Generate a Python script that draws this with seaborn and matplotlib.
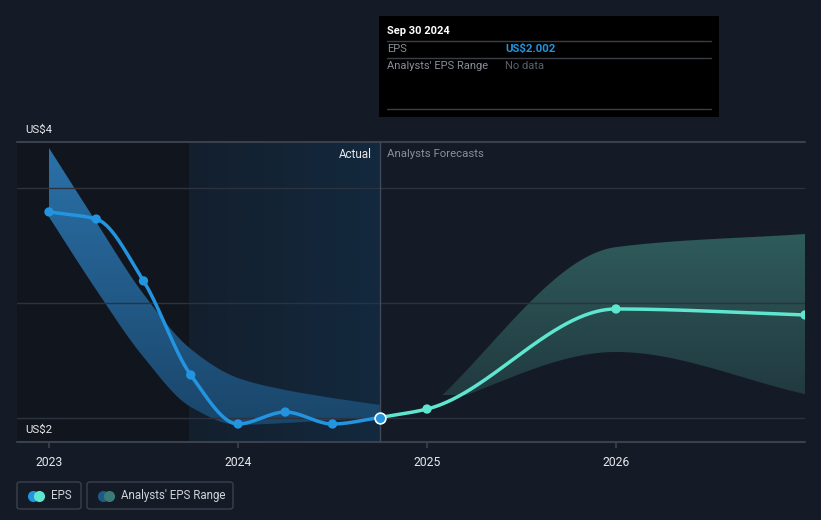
import matplotlib
matplotlib.use('Agg')
import matplotlib.pyplot as plt
import seaborn as sns
import numpy as np
import pandas as pd
from matplotlib.colors import LinearSegmentedColormap
from matplotlib.patches import PathPatch, Rectangle, FancyBboxPatch
from matplotlib.lines import Line2D

# data (decimal years, EPS in US$)
actual_x = [2023.0, 2023.25, 2023.5, 2023.75, 2024.0, 2024.25, 2024.5, 2024.75]
actual_eps = [2.896, 2.865, 2.596, 2.187, 1.974, 2.026, 1.974, 2.002]
past_range_hi = [3.174, 2.852, 2.539, 2.300, 2.174, 2.122, 2.087, 2.057]
past_range_lo = [2.874, 2.557, 2.265, 2.048, 1.970, 1.978, 1.991, 2.004]

fc_x = [2024.75, 2025.0, 2026.0, 2027.0]
fc_eps = [2.002, 2.039, 2.474, 2.448]
fc_range_x = [2025.0, 2026.0, 2027.0]
fc_range_hi = [2.039, 2.743, 2.800]
fc_range_lo = [2.039, 2.287, 2.104]

year_ticks = [2023, 2024, 2025, 2026]
grid_vals = [2.0, 2.5, 3.0]

BG = '#151b26'
BLUE = '#2394df'
TEAL = '#5ee6cf'


def monotone(x, y, n=200):
    # monotone cubic (Fritsch-Carlson) just for drawing a smooth path
    x = np.asarray(x, float)
    y = np.asarray(y, float)
    h = np.diff(x)
    d = np.diff(y) / h
    m = np.zeros_like(y)
    m[0], m[-1] = d[0], d[-1]
    for i in range(1, len(y) - 1):
        if d[i - 1] * d[i] > 0:
            w1 = 2 * h[i] + h[i - 1]
            w2 = h[i] + 2 * h[i - 1]
            m[i] = (w1 + w2) / (w1 / d[i - 1] + w2 / d[i])
    xs = np.linspace(x[0], x[-1], n)
    k = np.clip(np.searchsorted(x, xs) - 1, 0, len(x) - 2)
    t = (xs - x[k]) / h[k]
    h00 = 2 * t**3 - 3 * t**2 + 1
    h10 = t**3 - 2 * t**2 + t
    h01 = -2 * t**3 + 3 * t**2
    h11 = t**3 - t**2
    ys = h00 * y[k] + h10 * h[k] * m[k] + h01 * y[k + 1] + h11 * h[k] * m[k + 1]
    return xs, ys


sns.set_theme(style='dark')
plt.rcParams['font.family'] = ['Roboto', 'DejaVu Sans']

W, H = 821, 520
fig = plt.figure(figsize=(W / 100, H / 100), dpi=100, facecolor=BG)


def px(x, y):
    return x / W, 1 - y / H


ax = fig.add_axes([17 / W, (H - 442) / H, 788 / W, 300 / H])
ax.set_facecolor(BG)
x0, x1 = 2027 - 788 / 189, 2027.0
y0, y1 = 2 - 24 / 230, 2 + 276 / 230

# background regions
ax.axvspan(x0, 2023.74, color='#11161e', lw=0, zorder=0)
bg_cmap = LinearSegmentedColormap.from_list('bg', ['#131f2d', '#13293e'])
ax.imshow(np.linspace(0, 1, 256)[None, :], extent=[2023.74, 2024.75, y0, y1],
          aspect='auto', cmap=bg_cmap, zorder=0.5, origin='lower')


def gradient_band(xs, lo, hi, c_top, c_bot, v_top, v_bot):
    xd, hd = monotone(xs, hi)
    _, ld = monotone(xs, lo)
    poly = ax.fill_between(xd, ld, hd, facecolor='none', edgecolor='none')
    patch = PathPatch(poly.get_paths()[0], transform=ax.transData,
                      facecolor='none', edgecolor='none')
    ax.add_patch(patch)
    cmap = LinearSegmentedColormap.from_list('g', [c_bot, c_top])
    im = ax.imshow(np.linspace(0, 1, 256)[:, None], extent=[xs[0], xs[-1], v_bot, v_top],
                   aspect='auto', cmap=cmap, origin='lower', zorder=1)
    im.set_clip_path(patch)


gradient_band(actual_x, past_range_lo, past_range_hi, '#2b72aa', '#1a4569', 3.2, 1.95)
gradient_band(fc_range_x, fc_range_lo, fc_range_hi, '#2f5b5b', '#213a40', 2.8, 2.1)

# grid lines
for g in grid_vals:
    ax.axhline(g, color='#2c333e', lw=1, zorder=1.5)
ax.axhline(y1, color='#3b414c', lw=1.5, zorder=1.5, clip_on=False)
ax.axhline(y0, color='#3b414c', lw=1.5, zorder=1.5, clip_on=False)
ax.axvline(2024.75, color='#3d4a5a', lw=1, zorder=1.6)

# EPS lines
xa, ya = monotone(actual_x, actual_eps, 400)
sns.lineplot(x=xa, y=ya, ax=ax, color=BLUE, lw=2.5, zorder=3)
xf, yf = monotone(fc_x, fc_eps, 300)
sns.lineplot(x=xf, y=yf, ax=ax, color=TEAL, lw=2.5, zorder=3)

sns.scatterplot(x=actual_x[:-1], y=actual_eps[:-1], ax=ax, color=BLUE, s=45,
                edgecolor='none', zorder=4)
sns.scatterplot(x=fc_x[1:], y=fc_eps[1:], ax=ax, color=TEAL, s=45,
                edgecolor='none', zorder=4)
sns.scatterplot(x=[actual_x[-1]], y=[actual_eps[-1]], ax=ax, color=BLUE, s=60,
                edgecolor='white', linewidth=1.2, zorder=5)

ax.set_xlim(x0, x1)
ax.set_ylim(y0, y1)
ax.set_xticks(year_ticks)
ax.set_xticklabels([str(y) for y in year_ticks], color='#e6e8eb', fontsize=8.7)
ax.set_yticks([])
ax.tick_params(axis='x', length=4, color='#3b414c', pad=6, bottom=True)
for s in ax.spines.values():
    s.set_visible(False)
ax.set_xlabel('')
ax.set_ylabel('')

ax.text(2024.75 - 0.045, 3.2 - 0.053, 'Actual', color='#e6e8eb', fontsize=8.4,
        ha='right', va='center', zorder=6)
ax.text(2024.75 + 0.04, 3.2 - 0.053, 'Analysts Forecasts', color='#8a8f96', fontsize=8.2,
        ha='left', va='center', zorder=6)

fig.text(*px(25, 130), 'US$4', color='#e6e8eb', fontsize=8.2, va='center')
fig.text(*px(25, 430), 'US$2', color='#e6e8eb', fontsize=8.2, va='center')

# tooltip box
fig.add_artist(Rectangle(px(379, 117), 340 / W, 101 / H, transform=fig.transFigure,
                         facecolor='black', edgecolor='none', zorder=10))
for ly in (41, 58, 109):
    fig.add_artist(Line2D([387 / W, 711 / W], [1 - ly / H] * 2, transform=fig.transFigure,
                          color='#3a3f47', lw=1, zorder=11))
fig.text(*px(387, 31), 'Sep 30 2024', color='white', fontsize=8, fontweight='bold',
         va='center', zorder=12)
fig.text(*px(387, 49), 'EPS', color='#8a8f96', fontsize=8, va='center', zorder=12)
fig.text(*px(505, 49), 'US$2.002', color=BLUE, fontsize=8.2, fontweight='bold',
         va='center', zorder=12)
fig.text(*px(387, 66), "Analysts' EPS Range", color='#8a8f96', fontsize=8,
         va='center', zorder=12)
fig.text(*px(505, 66), 'No data', color='#5b6068', fontsize=8, va='center', zorder=12)

# legend
for bx, bw, c1, c2, label in [(17, 64, BLUE, TEAL, 'EPS'),
                              (87, 146, '#1f5a85', '#3a7b78', "Analysts' EPS Range")]:
    fig.add_artist(FancyBboxPatch(px(bx, 509), bw / W, 27 / H, transform=fig.transFigure,
                                  boxstyle='round,pad=0,rounding_size=0.004',
                                  facecolor='none', edgecolor='#3b414c', lw=1))
    for dx, c in ((16, c1), (22, c2)):
        fx, fy = px(bx + dx, 495.5)
        fig.add_artist(Line2D([fx], [fy], transform=fig.transFigure, marker='o',
                              markersize=8, markerfacecolor=c, markeredgewidth=0,
                              linestyle='none'))
    fig.text(*px(bx + 34, 495.5), label, color='#d0d3d8', fontsize=8.3, va='center')

fig.savefig('out.png', dpi=100, facecolor=BG)
